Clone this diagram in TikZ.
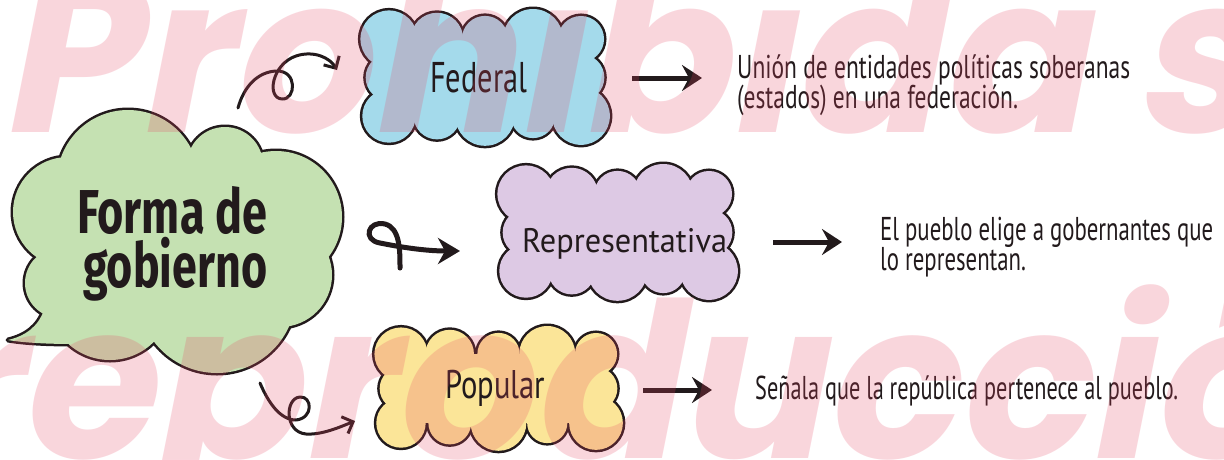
\documentclass[tikz,border=0pt]{standalone}
\usepackage{fontspec}
\usepackage{graphicx}
\usetikzlibrary{arrows.meta}
\newfontfamily\titlef{Fira Sans}
\newfontfamily\handf{PT Sans}
\newfontfamily\wmf{Poppins}[FakeSlant=0.2]
\definecolor{inkc}{RGB}{34,26,28}
\definecolor{gcol}{RGB}{197,225,178}
\definecolor{bcol}{RGB}{164,218,235}
\definecolor{pcol}{RGB}{221,201,228}
\definecolor{ycol}{RGB}{251,229,152}
\definecolor{wmc}{RGB}{232,70,100}
\newcommand{\fitw}[2]{\resizebox{#1}{\height}{#2}}
\newcommand{\twol}[3]{\resizebox{#1}{\height}{\vtop{\baselineskip=30pt\lineskiplimit=-100pt\hbox{#2}\hbox{#3}}}}
\newcommand{\puffcloud}[8]{%
  \pgfmathsetmacro{\pdx}{(#4-#2-2*#6)/#7}%
  \pgfmathsetmacro{\pdy}{(#5-#3-2*#6)/(#8+1)}%
  \path[#1] ({#2+#6},{#3+#6}) rectangle ({#4-#6},{#5-#6});
  \foreach \i in {0,...,#7}{%
    \pgfmathsetmacro{\ra}{#6+4*sin(137*\i+40)}%
    \pgfmathsetmacro{\rb}{#6+4*sin(211*\i+10)}%
    \path[#1] ({#2+#6+\i*\pdx},{#3+#6}) circle (\ra pt);
    \path[#1] ({#2+#6+\i*\pdx},{#5-#6}) circle (\rb pt);
  }%
  \foreach \j in {1,...,#8}{%
    \pgfmathsetmacro{\rc}{#6+3*sin(173*\j+70)}%
    \path[#1] ({#2+#6},{#3+#6+\j*\pdy}) circle (\rc pt);
    \path[#1] ({#4-#6},{#3+#6+\j*\pdy}) circle (\rc pt);
  }%
}
\newcommand{\greencloud}[1]{%
  \path[#1] (128,181) circle (71pt);
  \path[#1] (225,165) circle (38pt);
  \path[#1] (276,217) circle (66pt);
  \path[#1] (280,275) circle (52pt);
  \path[#1] (217,294) circle (79pt);
  \path[#1] (110,298) circle (62pt);
  \path[#1] (60,283) circle (35pt);
  \path[#1] (68,212) circle (55pt);
  \path[#1] (8,340) .. controls (25,336) and (38,327) .. (44,310) -- (70,310) -- (74,344) .. controls (50,344) and (25,343) .. cycle;
  \path[#1] (190,240) ellipse [x radius=110pt, y radius=70pt];
}
\begin{document}
\begin{tikzpicture}[x=1pt,y=-1pt,
  outl/.style={draw=inkc, line width=5pt, line join=round},
  lbl/.style={text=inkc, inner sep=0pt, anchor=base west, font=\handf\fontsize{#1}{#1}\selectfont},
  ttl/.style={text=inkc, inner sep=0pt, anchor=base west, font=\titlef\bfseries\fontsize{62}{62}\selectfont},
  curl/.style={draw=inkc, line width=3pt, line cap=round, line join=round},
  sarrow/.style={draw=inkc, line width=5pt, -{Stealth[length=20pt,width=26pt,inset=7pt]}},
  wm/.style={text=wmc, opacity=0.22, inner sep=0pt, anchor=base west, font=\wmf\bfseries\fontsize{#1}{#1}\selectfont}]
\fill[white] (0,0) rectangle (1224,459);
\useasboundingbox (0,0) rectangle (1224,459);
\clip (0,0) rectangle (1224,459);
% clouds
\greencloud{outl}
\greencloud{fill=gcol}
\puffcloud{outl}{363}{13}{607}{142}{26}{4}{1}
\puffcloud{fill=bcol}{363}{13}{607}{142}{26}{4}{1}
\puffcloud{outl}{500}{168}{735}{297}{26}{4}{1}
\puffcloud{fill=pcol}{500}{168}{735}{297}{26}{4}{1}
\puffcloud{outl}{377}{330}{620}{447}{24}{4}{1}
\puffcloud{fill=ycol}{377}{330}{620}{447}{24}{4}{1}
% cloud texts
\node[ttl] (t1) at (77,233) {\fitw{190pt}{Forma de}};
\node[ttl] (t2) at (83,287) {\fitw{184pt}{gobierno}};
\node[lbl=43] (fed) at (430,92) {\fitw{97pt}{Federal}};
\node[lbl=34] (rep) at (522,252) {\fitw{205pt}{Representativa}};
\node[lbl=40] (pop) at (445,398) {\fitw{100pt}{Popular}};
% descriptions
\node[lbl=33] (d1) at (737,78) {\twol{393pt}{Unión de entidades políticas soberanas}{(estados) en una federación.}};
\node[lbl=33] (d2) at (880,240) {\twol{333pt}{El pueblo elige a gobernantes que}{lo representan.}};
\node[lbl=33] (d3) at (755,399) {\fitw{423pt}{Señala que la república pertenece al pueblo.}};
% connectors
\coordinate (c1s) at (238,108); \coordinate (c1e) at (337,70);
\coordinate (c2s) at (400,268); \coordinate (c2e) at (460,251);
\coordinate (c3s) at (260,383); \coordinate (c3e) at (355,421);
\draw[curl, -{Straight Barb[length=9pt,width=18pt]}] (c1s) .. controls (244,86) and (258,72) .. (276,71) .. controls (298,70) and (296,100) .. (282,99) .. controls (266,98) and (272,64) .. (296,56) .. controls (314,50) and (330,58) .. (c1e);
\draw[curl, line width=5pt, -{Stealth[length=22pt,width=26pt,inset=7pt]}] (c2s) .. controls (400,250) and (400,228) .. (385,224) .. controls (368,220) and (362,240) .. (380,243) .. controls (400,247) and (425,251) .. (c2e);
\draw[curl, -{Straight Barb[length=9pt,width=18pt]}] (c3s) .. controls (268,402) and (280,420) .. (296,420) .. controls (314,418) and (312,396) .. (300,397) .. controls (285,398) and (284,432) .. (306,434) .. controls (322,435) and (340,427) .. (c3e);
\coordinate (s1s) at (632,78); \coordinate (s1e) at (702,78);
\coordinate (s2s) at (773,242); \coordinate (s2e) at (842,242);
\coordinate (s3s) at (643,390); \coordinate (s3e) at (712,390);
\draw[sarrow] (s1s) -- (s1e);
\draw[sarrow] (s2s) -- (s2e);
\draw[sarrow] (s3s) -- (s3e);
% watermark
\node[wm=218] (w1) at (-2,132) {Prohibida su};
\node[wm=217] (w2) at (-77,458) {reproducción};
\end{tikzpicture}
\end{document}
